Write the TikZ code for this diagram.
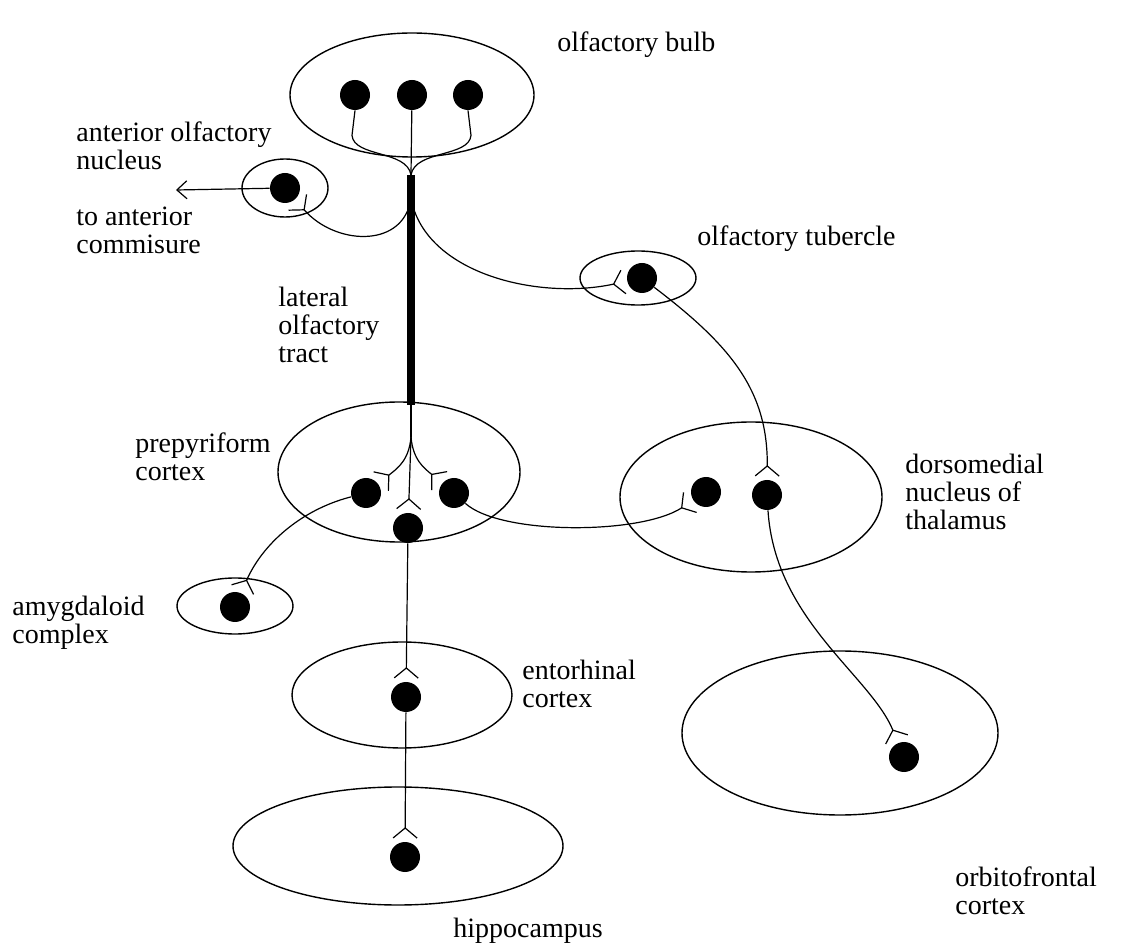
\documentclass[tikz,border=0pt]{standalone}
\usepackage{fontspec}
\setmainfont{Liberation Serif}
\usetikzlibrary{arrows.meta,shapes.geometric,positioning}

\tikzset{
  region/.style={draw, ellipse, line width=0.7pt, inner sep=0pt},
  cell/.style={circle, fill=black, minimum size=15pt, inner sep=0pt},
  fibre/.style={line width=0.6pt},
  syn/.style={fibre, -{Straight Barb[reversed, length=5pt, width=12pt]}, shorten >=1.5pt},
  lbl/.style={anchor=base west, align=left, inner sep=0pt, font=\fontsize{14}{14}\selectfont}
}

\begin{document}
\begin{tikzpicture}[x=0.5pt, y=-0.5pt]
\fill[white] (0,0) rectangle (1131,946);
\useasboundingbox (0,0) rectangle (1131,946);

% regions
\node[region, minimum width=122pt, minimum height=62pt] (bulb) at (412,95) {};
\node[region, minimum width=43pt, minimum height=29pt] (antnuc) at (285,188) {};
\node[region, minimum width=58pt, minimum height=27pt] (tubercle) at (638,278) {};
\node[region, minimum width=121pt, minimum height=70pt] (prepyr) at (399,472) {};
\node[region, minimum width=131pt, minimum height=75pt] (dorsomed) at (751,497) {};
\node[region, minimum width=58pt, minimum height=28pt] (amygd) at (235,606) {};
\node[region, minimum width=110pt, minimum height=53pt] (entorh) at (402,695) {};
\node[region, minimum width=165pt, minimum height=59pt] (hippoc) at (398,846) {};
\node[region, minimum width=158pt, minimum height=82pt] (orbito) at (840,733) {};

% cells
\foreach \n/\x/\y in {b1/355/95, b2/412/95, b3/468/95, an/285/188, tub/642/278,
  pp1/366/493, pp2/454/493, pp3/408/528, dm1/706/492, dm2/767/495,
  amy/235/607, ent/406/697, hip/405/857, orb/904/757} {
  \node[cell] (\n) at (\x,\y) {};
}

% labels
\node[lbl] (lbulb) at (557,52) {olfactory bulb};
\node[lbl] (lant) at (76,170) {anterior olfactory\\nucleus};
\node[lbl] (lcom) at (76,254) {to anterior\\commisure};
\node[lbl] (ltub) at (697,246) {olfactory tubercle};
\node[lbl] (ltract) at (278,363) {lateral\\olfactory\\tract};
\node[lbl] (lpre) at (135,481) {prepyriform\\cortex};
\node[lbl] (ldm) at (905,530) {dorsomedial\\nucleus of\\thalamus};
\node[lbl] (lamy) at (12,644) {amygdaloid\\complex};
\node[lbl] (lent) at (522,708) {entorhinal\\cortex};
\node[lbl] (lorb) at (955,914) {orbitofrontal\\cortex};
\node[lbl] (lhip) at (453,937) {hippocampus};

% lateral olfactory tract
\coordinate (tracttop) at (411,175);
\coordinate (tractend) at (411,405);
\coordinate (fork) at (411,437);
\coordinate (antbr) at (410,203);
\coordinate (tubbr) at (412,203);
\coordinate (tocom) at (176,190);
\draw[line width=4pt] (tracttop) -- (tractend);
\draw[fibre] (b2) -- (tracttop);
\draw[fibre] (b1.south) -- ++(-3,25) .. controls +(2,22) and +(-4,-25) .. (tracttop);
\draw[fibre] (b3.south) -- ++(3,25) .. controls +(-2,22) and +(4,-25) .. (tracttop);
\draw[fibre] (tractend) -- (fork);

% projections
\draw[fibre, -{Straight Barb[length=5pt, width=9pt]}] (an) -- (tocom);
\draw[syn] (antbr) .. controls (400,248) and (335,245) .. (an);
\draw[syn] (tubbr) .. controls (430,275) and (540,300) .. (tub);
\draw[syn] (tub) .. controls (730,345) and (768,390) .. (dm2);
\draw[syn] (fork) .. controls (409,460) and (398,468) .. (pp1);
\draw[syn] (fork) .. controls (413,460) and (424,468) .. (pp2);
\draw[syn] (fork) -- (pp3);
\draw[syn] (pp1) .. controls (300,510) and (262,545) .. (amy);
\draw[syn] (pp2) .. controls (500,535) and (640,535) .. (dm1);
\draw[syn] (pp3) -- (ent);
\draw[syn] (ent) -- (hip);
\draw[syn] (dm2) .. controls (775,620) and (870,675) .. (orb);
\end{tikzpicture}
\end{document}
